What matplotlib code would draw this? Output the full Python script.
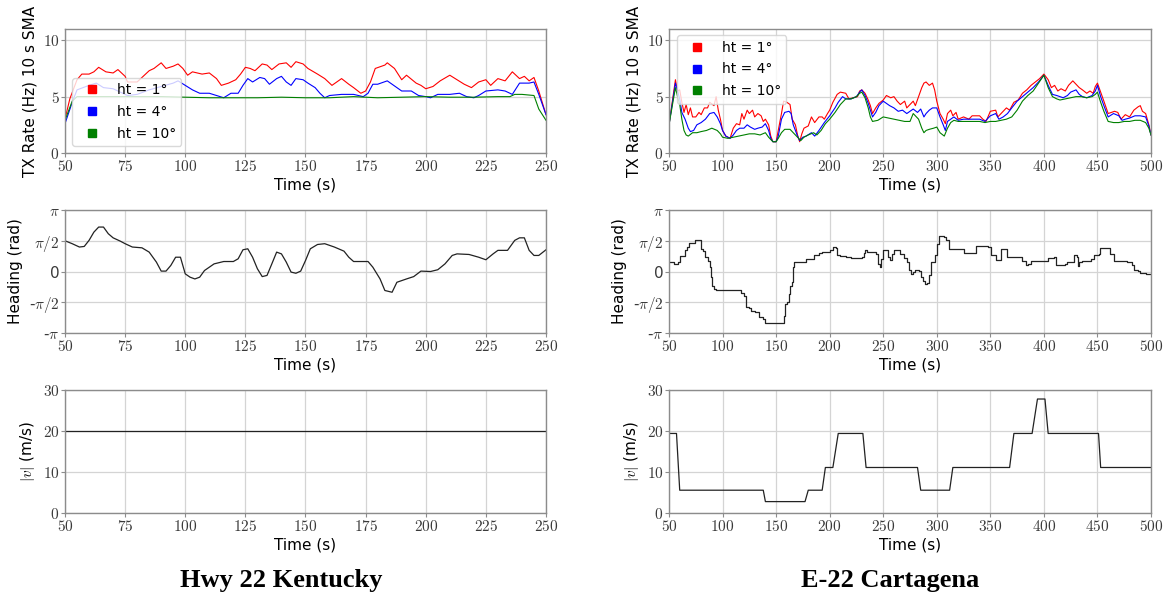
import matplotlib

matplotlib.use("Agg")
import matplotlib.pyplot as plt
import numpy as np
from matplotlib.lines import Line2D
from matplotlib.ticker import FixedLocator, FuncFormatter

# ---- Hwy 22 Kentucky ----
ky_red_t = [50, 52, 55, 57, 60, 62, 64, 67, 70, 72, 75, 76, 80, 85, 87, 90, 92, 95, 97, 99,
            101, 103, 107, 110, 113, 115, 118, 121, 123, 125, 127, 129, 132, 134, 136, 139,
            142, 144, 146, 149, 151, 155, 158, 161, 165, 168, 170, 173, 175, 177, 179, 183,
            184, 187, 190, 192, 196, 198, 200, 203, 206, 210, 213, 216, 219, 222, 225, 227,
            230, 233, 236, 239, 241, 243, 245, 247, 250]
ky_red = [3.0, 4.8, 6.5, 7.0, 7.0, 7.2, 7.6, 7.2, 7.1, 7.4, 6.8, 6.3, 6.3, 7.3, 7.5, 8.0, 7.5,
          7.7, 7.9, 7.5, 6.9, 7.2, 7.0, 7.1, 6.6, 6.0, 6.2, 6.5, 7.0, 7.6, 7.5, 7.3, 7.9, 7.8,
          7.4, 7.9, 8.0, 7.6, 8.1, 7.9, 7.5, 7.0, 6.6, 6.0, 6.6, 6.1, 5.8, 5.3, 5.5, 6.3, 7.5,
          7.8, 8.0, 7.5, 6.5, 6.9, 6.2, 6.0, 5.7, 5.9, 6.4, 6.9, 6.5, 6.1, 5.8, 6.3, 6.5, 6.0,
          6.6, 6.4, 7.2, 6.6, 6.8, 6.4, 6.7, 5.5, 3.4]

ky_blue_t = [50, 53, 55, 60, 63, 66, 70, 73, 76, 80, 85, 90, 95, 97, 100, 103, 106, 110, 113,
             116, 119, 122, 124, 126, 128, 131, 133, 135, 138, 140, 142, 144, 146, 149, 151,
             154, 156, 158, 160, 165, 170, 174, 176, 178, 180, 184, 186, 190, 194, 197, 200,
             202, 205, 210, 214, 217, 220, 222, 225, 230, 233, 236, 239, 243, 245, 247, 250]
ky_blue = [2.6, 4.5, 5.6, 6.0, 6.2, 5.8, 5.7, 5.4, 5.1, 5.2, 5.6, 5.9, 6.2, 6.4, 6.0, 5.6, 5.3,
           5.3, 5.1, 4.9, 5.3, 5.3, 6.0, 6.6, 6.3, 6.7, 6.6, 6.1, 6.6, 6.8, 6.3, 6.0, 6.6, 6.5,
           6.2, 5.8, 5.3, 4.9, 5.1, 5.2, 5.2, 5.0, 5.3, 6.1, 6.1, 6.4, 6.1, 5.5, 5.5, 5.1, 5.0,
           4.9, 5.2, 5.2, 5.3, 5.0, 4.9, 5.1, 5.5, 5.6, 5.5, 5.2, 6.2, 6.2, 6.3, 5.2, 3.4]

ky_green_t = [50, 53, 55, 60, 70, 80, 90, 100, 110, 120, 130, 140, 150, 160, 170, 180, 190,
              200, 210, 220, 230, 235, 237, 240, 245, 247, 250]
ky_green = [2.9, 4.6, 5.0, 5.0, 5.0, 5.0, 5.0, 4.95, 4.9, 4.9, 4.9, 4.95, 4.9, 4.9, 5.0, 4.9,
            4.95, 5.0, 4.95, 4.95, 5.0, 5.0, 5.2, 5.2, 5.1, 3.9, 2.9]

ky_heading_t = [50, 53, 56, 58, 60, 62, 64, 66, 68, 70, 73, 75, 78, 82, 85, 88, 90, 92, 94, 96,
                98, 100, 102, 104, 106, 108, 112, 116, 120, 122, 124, 126, 128, 130, 132, 134,
                136, 138, 140, 142, 144, 146, 148, 150, 152, 155, 158, 162, 166, 168, 170, 176,
                178, 181, 183, 186, 188, 192, 195, 198, 202, 205, 208, 211, 213, 218, 222, 225,
                228, 230, 234, 237, 239, 241, 243, 245, 247, 250]
ky_heading = [1.57, 1.42, 1.25, 1.28, 1.59, 2.01, 2.27, 2.27, 1.93, 1.72, 1.55, 1.42, 1.25, 1.21,
              0.99, 0.48, 0.02, 0.02, 0.31, 0.73, 0.73, -0.12, -0.29, -0.38, -0.29, 0.05, 0.39,
              0.51, 0.51, 0.65, 1.11, 1.16, 0.73, 0.14, -0.26, -0.20, 0.39, 0.99, 0.90, 0.48,
              -0.03, -0.09, 0.02, 0.56, 1.16, 1.38, 1.42, 1.25, 1.04, 0.73, 0.51, 0.51, 0.22,
              -0.38, -0.97, -1.06, -0.55, -0.38, -0.26, 0.02, 0.0, 0.09, 0.39, 0.82, 0.90, 0.87,
              0.73, 0.60, 0.90, 1.08, 1.08, 1.59, 1.72, 1.72, 1.08, 0.82, 0.82, 1.11]

ky_speed_t = [50, 250]
ky_speed = [20.0, 20.0]

# ---- E-22 Cartagena ----
ct_red_t = [50, 56, 58, 60, 62, 64, 66, 68, 70, 72, 75, 78, 80, 83, 86, 88, 92, 94, 96, 98,
            100, 103, 107, 110, 113, 116, 118, 120, 123, 125, 128, 130, 133, 136, 138, 140,
            143, 145, 147, 150, 152, 155, 157, 160, 163, 165, 168, 170, 172, 174, 176, 180,
            183, 186, 190, 193, 195, 198, 200, 203, 207, 210, 215, 218, 222, 226, 228, 230,
            233, 236, 238, 240, 243, 246, 250, 253, 257, 260, 263, 266, 270, 272, 275, 278,
            280, 283, 286, 288, 290, 293, 296, 298, 300, 303, 306, 308, 310, 313, 315, 318,
            320, 325, 330, 333, 340, 343, 346, 350, 355, 357, 360, 365, 368, 372, 376, 380,
            384, 388, 392, 396, 400, 404, 407, 410, 413, 416, 420, 423, 427, 430, 433, 436,
            440, 443, 446, 448, 450, 453, 456, 460, 463, 466, 469, 472, 476, 480, 484, 488,
            490, 492, 495, 498, 500]
ct_red = [2.5, 6.5, 5.5, 5.6, 4.5, 3.6, 4.3, 3.4, 4.0, 3.2, 3.2, 3.6, 3.4, 4.0, 4.0, 4.5, 4.2,
          5.0, 3.8, 3.0, 2.0, 1.5, 1.3, 2.2, 2.6, 2.5, 3.5, 3.0, 3.8, 3.5, 3.8, 3.2, 3.5, 3.3,
          2.8, 3.0, 2.5, 1.5, 1.0, 1.0, 2.0, 3.5, 4.6, 4.5, 4.3, 3.0, 2.5, 1.6, 1.0, 1.7, 2.2,
          2.4, 3.2, 2.7, 3.2, 3.2, 3.0, 3.5, 3.8, 4.5, 5.2, 5.4, 5.3, 4.8, 4.9, 5.0, 5.5, 5.6,
          5.3, 4.7, 4.2, 3.5, 4.0, 4.4, 4.7, 5.1, 4.9, 5.0, 4.6, 4.3, 4.6, 4.0, 4.3, 4.6, 4.2,
          5.0, 5.8, 6.2, 6.3, 6.0, 6.2, 5.6, 4.6, 3.5, 3.0, 2.6, 3.5, 3.8, 3.3, 3.6, 3.0, 3.2,
          3.0, 3.3, 3.3, 3.0, 2.8, 3.7, 3.8, 3.2, 3.5, 4.0, 3.8, 4.5, 4.7, 5.3, 5.6, 6.0, 6.3,
          6.6, 7.0, 6.5, 5.8, 6.0, 5.5, 5.7, 5.5, 6.0, 6.4, 6.1, 5.8, 5.6, 5.3, 5.5, 5.3, 5.9,
          6.2, 5.4, 4.6, 3.5, 3.6, 3.7, 3.6, 3.0, 3.4, 3.2, 3.8, 4.1, 4.2, 3.7, 3.5, 2.5, 1.6]

ct_blue_t = [50, 56, 58, 60, 62, 65, 68, 70, 73, 76, 80, 84, 88, 92, 95, 98, 100, 103, 107, 110,
             113, 116, 120, 123, 126, 130, 133, 137, 140, 143, 145, 147, 150, 152, 155, 158,
             162, 164, 166, 168, 170, 172, 175, 178, 183, 186, 190, 195, 200, 205, 208, 212,
             215, 220, 225, 228, 230, 233, 236, 238, 240, 243, 246, 250, 253, 256, 260, 264,
             268, 272, 275, 278, 282, 285, 288, 290, 293, 296, 300, 303, 306, 308, 310, 313,
             316, 320, 325, 335, 340, 345, 350, 355, 358, 362, 366, 370, 375, 380, 385, 390,
             395, 400, 404, 408, 412, 415, 418, 422, 425, 430, 433, 436, 440, 445, 448, 450,
             453, 456, 460, 465, 470, 473, 476, 480, 485, 490, 495, 498, 500]
ct_blue = [2.5, 6.2, 5.5, 4.8, 3.6, 3.0, 2.2, 1.9, 2.0, 2.5, 2.7, 3.0, 3.5, 3.6, 3.2, 2.6, 2.0,
           1.5, 1.3, 1.6, 2.0, 2.2, 2.2, 2.5, 2.3, 2.1, 2.2, 2.3, 2.6, 2.0, 1.3, 1.0, 1.0, 1.5,
           3.0, 3.6, 3.7, 3.5, 2.5, 2.0, 1.5, 1.1, 1.4, 1.5, 1.8, 1.5, 2.0, 2.7, 3.3, 4.0, 4.5,
           5.0, 4.8, 4.8, 5.0, 5.4, 5.6, 5.1, 4.4, 3.8, 3.2, 3.6, 4.2, 4.6, 4.4, 4.2, 4.0, 3.7,
           3.8, 3.5, 3.7, 3.9, 3.6, 3.9, 3.2, 3.5, 3.8, 4.0, 4.0, 3.2, 2.5, 2.0, 2.8, 3.0, 3.2,
           2.9, 3.0, 3.0, 3.0, 2.8, 3.3, 3.5, 3.0, 3.2, 3.5, 4.0, 4.6, 5.0, 5.4, 5.8, 6.3, 6.9,
           6.0, 5.2, 5.1, 5.0, 4.9, 5.1, 5.4, 5.6, 5.2, 5.0, 4.9, 5.1, 5.5, 6.0, 5.0, 4.2, 3.2,
           3.5, 3.3, 2.9, 3.0, 3.1, 3.3, 3.3, 3.2, 2.4, 1.6]

ct_green_t = [50, 56, 58, 60, 62, 64, 66, 68, 72, 76, 80, 85, 90, 95, 98, 100, 105, 110, 115,
              120, 125, 130, 135, 140, 143, 147, 150, 152, 155, 158, 163, 166, 170, 173, 176,
              180, 185, 188, 192, 196, 200, 205, 210, 215, 220, 225, 228, 230, 233, 236, 238,
              240, 245, 250, 255, 260, 265, 270, 275, 278, 280, 283, 286, 288, 290, 293, 297,
              300, 303, 307, 310, 313, 316, 320, 330, 340, 345, 350, 355, 360, 365, 370, 375,
              380, 385, 390, 395, 400, 404, 408, 412, 415, 420, 425, 430, 435, 440, 445, 448,
              450, 453, 456, 460, 465, 470, 475, 480, 485, 490, 495, 498, 500]
ct_green = [2.5, 5.8, 5.0, 4.3, 3.0, 2.0, 1.6, 1.5, 1.8, 1.8, 1.9, 2.0, 2.2, 2.0, 1.7, 1.4, 1.3,
            1.4, 1.5, 1.6, 1.7, 1.7, 1.6, 1.8, 1.4, 1.0, 1.0, 1.3, 1.8, 2.1, 2.1, 1.8, 1.4, 1.1,
            1.4, 1.6, 1.8, 1.6, 2.0, 2.6, 3.0, 3.6, 4.3, 4.8, 4.8, 5.0, 5.3, 5.4, 4.9, 4.0, 3.2,
            2.8, 2.9, 3.2, 3.1, 3.0, 2.9, 2.8, 2.8, 3.5, 3.3, 3.0, 2.2, 1.8, 2.0, 2.1, 2.2, 2.3,
            1.8, 1.5, 2.2, 2.7, 2.9, 2.8, 2.8, 2.8, 2.7, 2.8, 2.8, 2.9, 3.0, 3.2, 3.8, 4.6, 5.1,
            5.5, 6.2, 6.9, 5.8, 5.0, 4.8, 4.7, 4.8, 4.9, 5.0, 5.0, 4.9, 5.0, 5.2, 5.4, 4.5, 3.7,
            2.8, 2.7, 2.7, 2.8, 2.8, 2.9, 2.9, 2.7, 2.2, 1.6]

ct_heading_t = [50, 53, 55, 58, 60, 63, 65, 67, 69, 74, 79, 80, 82, 84, 86, 88, 89, 90, 92, 94,
                117, 120, 122, 125, 127, 130, 134, 138, 140, 155, 157, 158, 160, 162, 163, 165,
                166, 167, 178, 185, 190, 193, 200, 203, 206, 207, 210, 215, 220, 230, 232, 233,
                235, 243, 245, 247, 248, 250, 254, 256, 258, 260, 263, 266, 269, 272, 274, 276,
                278, 280, 283, 285, 287, 289, 291, 293, 295, 298, 300, 302, 305, 307, 309, 311,
                325, 337, 348, 351, 355, 360, 366, 380, 383, 385, 388, 393, 404, 409, 411, 420,
                422, 428, 431, 432, 433, 436, 444, 447, 451, 452, 462, 465, 478, 482, 484, 488,
                490, 495, 500]
ct_heading = [0.51, 0.48, 0.39, 0.48, 0.77, 0.77, 1.08, 1.25, 1.45, 1.62, 1.62, 1.16, 1.04, 0.73,
              0.56, 0.22, -0.29, -0.72, -0.89, -0.97, -1.11, -1.23, -1.79, -1.86, -2.0, -2.08,
              -2.34, -2.42, -2.65, -2.65, -2.25, -1.66, -1.57, -1.14, -0.72, -0.55, 0.22, 0.48,
              0.65, 0.82, 0.94, 0.99, 1.08, 1.25, 1.21, 0.82, 0.77, 0.73, 0.70, 0.73, 0.94, 1.08,
              0.99, 0.90, 0.39, 0.22, 0.65, 1.11, 0.73, 0.60, 0.90, 1.11, 1.08, 0.87, 0.70, 0.48,
              0.09, -0.15, -0.03, 0.09, 0.05, -0.29, -0.46, -0.63, -0.60, -0.20, 0.48, 0.82,
              1.42, 1.79, 1.83, 1.76, 1.62, 1.16, 0.94, 1.28, 1.25, 0.82, 0.60, 1.16, 0.73, 0.56,
              0.31, 0.39, 0.53, 0.56, 0.70, 0.73, 0.31, 0.36, 0.48, 0.82, 0.73, 0.26, 0.48, 0.53,
              0.65, 0.82, 0.90, 1.21, 0.90, 0.56, 0.48, 0.31, 0.09, 0.05, -0.09, -0.12, -0.12]

ct_speed_t = [50, 57, 60, 138, 140, 177, 180, 193, 196, 203, 208, 231, 234, 282, 285, 312, 315,
              368, 372, 389, 394, 401, 404, 451, 453, 500]
ct_speed = [19.4, 19.4, 5.56, 5.56, 2.78, 2.78, 5.56, 5.56, 11.1, 11.1, 19.4, 19.4, 11.1, 11.1,
            5.56, 5.56, 11.1, 11.1, 19.4, 19.4, 27.8, 27.8, 19.4, 19.4, 11.1, 11.1]

legend_labels = ["ht = 1°", "ht = 4°", "ht = 10°"]
legend_colors = ["red", "blue", "green"]
heading_ticks = [-np.pi, -np.pi / 2, 0, np.pi / 2, np.pi]
heading_tick_labels = [r"-$\pi$", r"-$\pi/2$", "0", r"$\pi/2$", r"$\pi$"]

plt.rcParams["mathtext.fontset"] = "cm"
plt.rcParams["font.family"] = "DejaVu Sans"

SPINE = "#8c8c8c"
GRID = "#d4d4d4"


def _style_axes(ax, xticks):
    for spine in ax.spines.values():
        spine.set_color(SPINE)
        spine.set_linewidth(1.0)
    ax.grid(True, color=GRID, linewidth=0.9)
    ax.set_axisbelow(True)
    ax.xaxis.set_major_locator(FixedLocator(xticks))
    ax.xaxis.set_major_formatter(FuncFormatter(lambda v, p: f"${int(round(v))}$"))
    ax.tick_params(axis="both", colors=SPINE, labelcolor="#3a3a3a", labelsize=11,
                   length=3, width=0.8, pad=1)
    ax.set_xlabel("Time (s)", fontsize=11, labelpad=3)


def plot_tx_rate(ax, series, xlim, xticks, legend_anchor, legend_loc):
    for (t, v), color in zip(series, legend_colors):
        ax.plot(t, v, color=color, linewidth=0.8)
    ax.set_xlim(*xlim)
    ax.set_ylim(0, 11)
    ax.yaxis.set_major_locator(FixedLocator([0, 5, 10]))
    ax.yaxis.set_major_formatter(FuncFormatter(lambda v, p: f"${int(round(v))}$"))
    _style_axes(ax, xticks)
    ax.set_ylabel("TX Rate (Hz) 10 s SMA", fontsize=11, labelpad=4)

    # 凡例は四角マーカーのみ
    handles = [
        Line2D([], [], linestyle="none", marker="s", markersize=6, color=c)
        for c in legend_colors
    ]
    ax.legend(handles, legend_labels, loc=legend_loc, bbox_to_anchor=legend_anchor,
              fontsize=10, labelspacing=0.55, framealpha=0.8, edgecolor="#d0d0d0",
              borderaxespad=0.0)


def plot_heading(ax, t, v, xlim, xticks, steps=False):
    ax.plot(t, v, color="#222222", linewidth=0.9,
            drawstyle="steps-post" if steps else "default")
    ax.set_xlim(*xlim)
    ax.set_ylim(-np.pi, np.pi)
    ax.yaxis.set_major_locator(FixedLocator(heading_ticks))
    ax.set_yticklabels(heading_tick_labels)
    _style_axes(ax, xticks)
    ax.set_ylabel("Heading (rad)", fontsize=11, labelpad=4)


def plot_speed(ax, t, v, xlim, xticks):
    ax.plot(t, v, color="#222222", linewidth=0.9)
    ax.set_xlim(*xlim)
    ax.set_ylim(0, 30)
    ax.yaxis.set_major_locator(FixedLocator([0, 10, 20, 30]))
    ax.yaxis.set_major_formatter(FuncFormatter(lambda v, p: f"${int(round(v))}$"))
    _style_axes(ax, xticks)
    ax.set_ylabel(r"$|v|$ (m/s)", fontsize=11, labelpad=4)


fig = plt.figure(figsize=(11.66, 5.97), dpi=100)

W, H = 1166, 597
col_x = [(65, 546), (669, 1151)]
row_y = [(29, 153), (210, 333), (390, 513)]


def _axes(col, row):
    x0, x1 = col_x[col]
    y0, y1 = row_y[row]
    return fig.add_axes([x0 / W, 1 - y1 / H, (x1 - x0) / W, (y1 - y0) / H])


ky_ticks = list(range(50, 251, 25))
ct_ticks = list(range(50, 501, 50))

plot_tx_rate(_axes(0, 0),
             [(ky_red_t, ky_red), (ky_blue_t, ky_blue), (ky_green_t, ky_green)],
             (50, 250), ky_ticks, (0.015, 0.055), "lower left")
plot_tx_rate(_axes(1, 0),
             [(ct_red_t, ct_red), (ct_blue_t, ct_blue), (ct_green_t, ct_green)],
             (50, 500), ct_ticks, (0.017, 0.95), "upper left")

plot_heading(_axes(0, 1), ky_heading_t, ky_heading, (50, 250), ky_ticks)
plot_heading(_axes(1, 1), ct_heading_t, ct_heading, (50, 500), ct_ticks, steps=True)

plot_speed(_axes(0, 2), ky_speed_t, ky_speed, (50, 250), ky_ticks)
plot_speed(_axes(1, 2), ct_speed_t, ct_speed, (50, 500), ct_ticks)

fig.text(281 / W, 1 - 581 / H, "Hwy 22 Kentucky", ha="center", va="center",
         fontsize=19, fontweight="bold", family="Liberation Serif")
fig.text(890 / W, 1 - 581 / H, "E-22 Cartagena", ha="center", va="center",
         fontsize=19, fontweight="bold", family="Liberation Serif")

fig.savefig("out.png", dpi=100)
plt.close(fig)
